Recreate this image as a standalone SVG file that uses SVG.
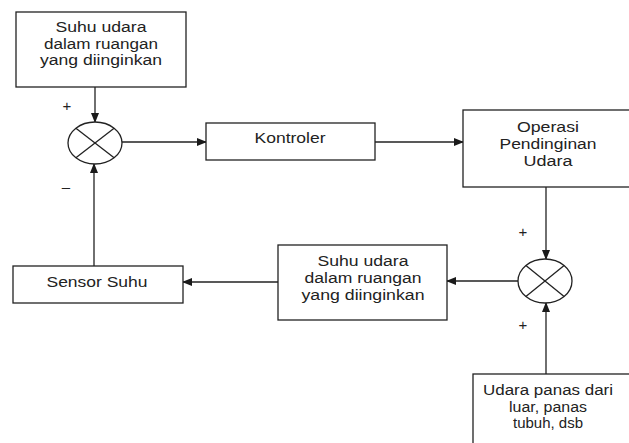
<svg xmlns="http://www.w3.org/2000/svg" width="629" height="443" viewBox="0 0 629 443">
<defs>
<marker id="arr" markerWidth="10" markerHeight="8" refX="9" refY="4" orient="auto" markerUnits="userSpaceOnUse">
<path d="M0,0 L10,4 L0,8 Z" fill="#1a1a1a"/>
</marker>
<style>
.box{fill:#fff;stroke:#222;stroke-width:1.3}
.sum{fill:#fff;stroke:#222;stroke-width:1.3}
.ln{fill:none;stroke:#222;stroke-width:1.3}
.con{fill:none;stroke:#222;stroke-width:1.3;marker-end:url(#arr)}
text{font-family:"Liberation Sans",Arial,sans-serif;font-size:15.5px;fill:#222;text-anchor:middle}
.sign{font-size:15px}
</style>
</defs>
<rect width="629" height="443" fill="#fff"/>
<g id="connectors">
<line class="con" x1="95" y1="87" x2="95" y2="122"/>
<line class="con" x1="122" y1="142" x2="206" y2="142"/>
<line class="con" x1="375" y1="142" x2="463" y2="142"/>
<line class="con" x1="546" y1="187" x2="546" y2="259"/>
<line class="con" x1="518" y1="281" x2="447" y2="281"/>
<line class="con" x1="278" y1="282" x2="183" y2="282"/>
<line class="con" x1="94" y1="266" x2="94" y2="164"/>
<line class="con" x1="546" y1="374" x2="546" y2="303"/>
</g>
<g id="setpoint">
<rect class="box" x="16" y="12" width="170" height="75"/>
<text x="101" y="32" textLength="91" lengthAdjust="spacingAndGlyphs">Suhu udara</text>
<text x="101" y="49" textLength="114" lengthAdjust="spacingAndGlyphs">dalam ruangan</text>
<text x="101" y="65" textLength="122" lengthAdjust="spacingAndGlyphs">yang diinginkan</text>
</g>
<g id="sum1">
<ellipse class="sum" cx="95" cy="143" rx="27" ry="21"/>
<line class="ln" x1="75.9" y1="128.2" x2="114.1" y2="157.8"/>
<line class="ln" x1="75.9" y1="157.8" x2="114.1" y2="128.2"/>
<text class="sign" x="67" y="111">+</text>
<text class="sign" x="66" y="192">–</text>
</g>
<g id="kontroler">
<rect class="box" x="206" y="123" width="169" height="37"/>
<text x="290" y="143" textLength="71" lengthAdjust="spacingAndGlyphs">Kontroler</text>
</g>
<g id="operasi">
<rect class="box" x="463" y="110" width="170" height="77"/>
<text x="548" y="132" textLength="62" lengthAdjust="spacingAndGlyphs">Operasi</text>
<text x="548" y="149" textLength="97" lengthAdjust="spacingAndGlyphs">Pendinginan</text>
<text x="548" y="166" textLength="49" lengthAdjust="spacingAndGlyphs">Udara</text>
</g>
<g id="sum2">
<ellipse class="sum" cx="545" cy="281" rx="27" ry="22"/>
<line class="ln" x1="525.9" y1="265.4" x2="564.1" y2="296.6"/>
<line class="ln" x1="525.9" y1="296.6" x2="564.1" y2="265.4"/>
<text class="sign" x="523" y="237">+</text>
<text class="sign" x="523" y="330">+</text>
</g>
<g id="actual">
<rect class="box" x="278" y="245" width="169" height="75"/>
<text x="363" y="266" textLength="91" lengthAdjust="spacingAndGlyphs">Suhu udara</text>
<text x="363" y="283" textLength="117" lengthAdjust="spacingAndGlyphs">dalam ruangan</text>
<text x="363" y="300" textLength="123" lengthAdjust="spacingAndGlyphs">yang diinginkan</text>
</g>
<g id="sensor">
<rect class="box" x="13" y="266" width="170" height="37"/>
<text x="97" y="287" textLength="101" lengthAdjust="spacingAndGlyphs">Sensor Suhu</text>
</g>
<g id="disturbance">
<rect class="box" x="473" y="374" width="170" height="80"/>
<text x="548" y="395" textLength="130" lengthAdjust="spacingAndGlyphs">Udara panas dari</text>
<text x="548" y="412" textLength="78" lengthAdjust="spacingAndGlyphs">luar, panas</text>
<text x="548" y="428" textLength="70" lengthAdjust="spacingAndGlyphs">tubuh, dsb</text>
</g>
</svg>
